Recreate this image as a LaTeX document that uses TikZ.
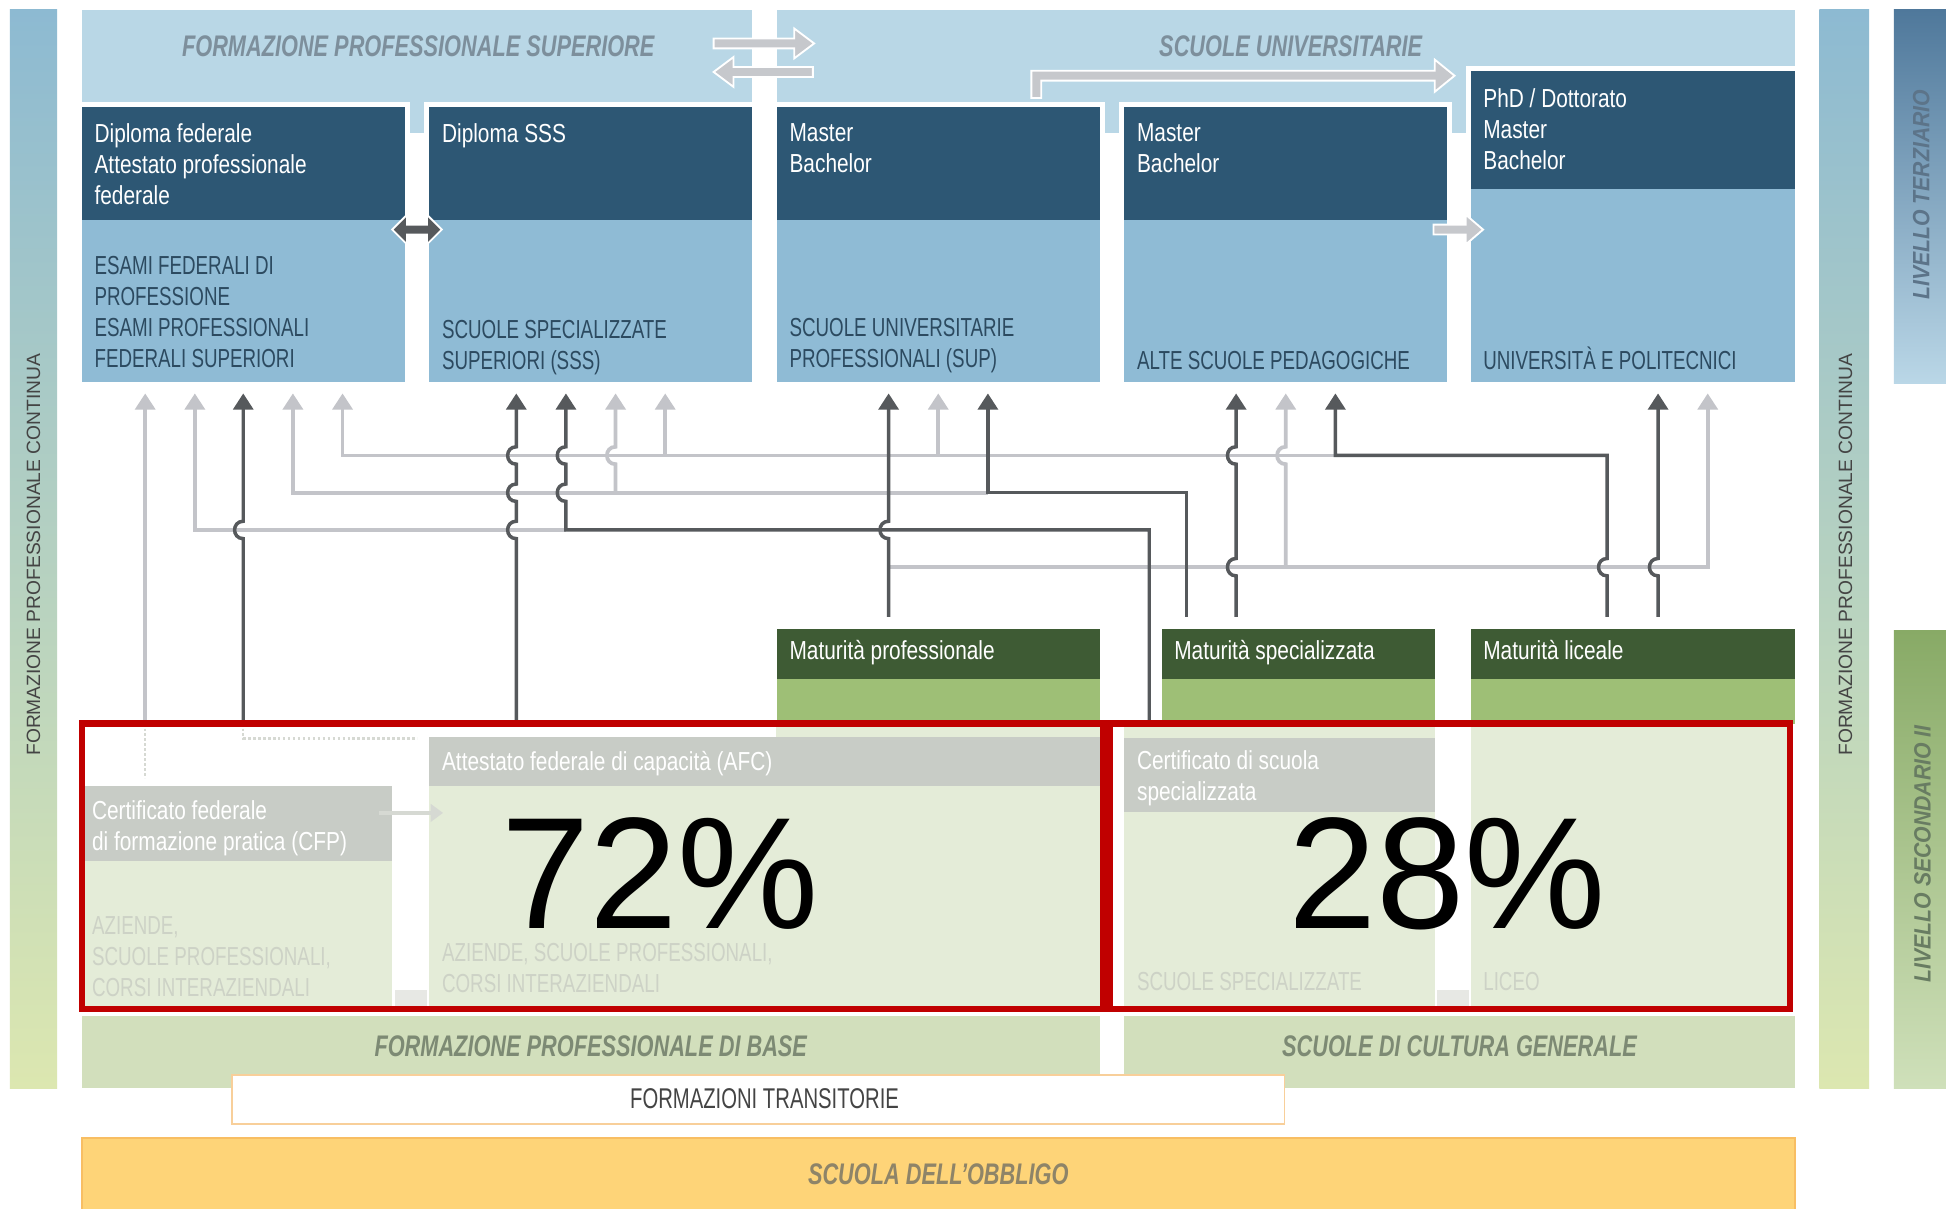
\documentclass[tikz,border=0pt]{standalone}
\usepackage{fontspec}
\setmainfont{Liberation Sans}
\newfontfamily\cnd[FakeStretch=0.8]{Liberation Sans}
\newfontfamily\cnc[FakeStretch=0.72]{Liberation Sans}
\newfontfamily\cnt[FakeStretch=0.71]{Liberation Sans}
\newfontfamily\ttl[FakeStretch=0.73]{Liberation Sans}
\newfontfamily\lvl[FakeStretch=0.9]{Liberation Sans}
\usetikzlibrary{arrows.meta}
\definecolor{bandblue}{HTML}{B9D7E6}
\definecolor{hdr}{HTML}{2D5774}
\definecolor{bodyb}{HTML}{8FBBD5}
\definecolor{bodytxt}{HTML}{2C4A60}
\definecolor{titleblue}{HTML}{7D8F9C}
\definecolor{titlegreen}{HTML}{7D8A74}
\definecolor{arrl}{HTML}{C3C4C9}
\definecolor{arrd}{HTML}{56595C}
\definecolor{barr}{HTML}{C6C8CC}
\definecolor{matdark}{HTML}{3E5B34}
\definecolor{matlight}{HTML}{9EBF76}
\definecolor{palegreen}{HTML}{E4ECD8}
\definecolor{greystrip}{HTML}{C8CCC6}
\definecolor{fadedtext}{HTML}{CDD2C6}
\definecolor{fadedline}{HTML}{D6D9D3}
\definecolor{bandgreen}{HTML}{D2DFBC}
\definecolor{obb}{HTML}{FED478}
\definecolor{obbline}{HTML}{F8BE63}
\definecolor{transline}{HTML}{F8CF9A}
\definecolor{obbtxt}{HTML}{8E8468}
\definecolor{redc}{HTML}{C00000}
\definecolor{fpctop}{HTML}{8DBAD2}
\definecolor{fpcmid}{HTML}{B4D3C6}
\definecolor{fpcbot}{HTML}{DCE7B0}
\definecolor{tertop}{HTML}{4F789B}
\definecolor{termid}{HTML}{93B6CE}
\definecolor{terbot}{HTML}{BAD7E7}
\definecolor{sectop}{HTML}{88AA66}
\definecolor{secmid}{HTML}{A9C58C}
\definecolor{secbot}{HTML}{CFE0BA}
\definecolor{sidetxt}{HTML}{444444}
\definecolor{tertxt}{HTML}{5C7489}
\definecolor{sectxt}{HTML}{687C62}
\begin{document}
\begin{tikzpicture}[x=1pt,y=-1pt,
  hdrtext/.style={anchor=north west, inner sep=0pt, text=white, font=\cnd\fontsize{21}{25}\selectfont, align=left},
  bodytext/.style={anchor=north west, inner sep=0pt, text=bodytxt, font=\cnc\fontsize{21}{25}\selectfont, align=left},
  bodyline/.style={anchor=base west, inner sep=0pt, text=bodytxt, font=\cnc\fontsize{21}{25}\selectfont},
  mattext/.style={anchor=base west, inner sep=0pt, text=white, font=\cnd\fontsize{21}{25}\selectfont},
  striptext/.style={anchor=north west, inner sep=0pt, text=white, font=\cnd\fontsize{21}{25}\selectfont, align=left},
  fadetext/.style={anchor=north west, inner sep=0pt, text=fadedtext, font=\cnc\fontsize{21}{25}\selectfont, align=left},
  bandtitle/.style={anchor=base, inner sep=0pt, font=\ttl\bfseries\itshape\fontsize{24}{28}\selectfont},
  sidetext/.style={rotate=90, inner sep=0pt, text=sidetxt, font=\fontsize{15.5}{18}\selectfont},
  livtext/.style={rotate=90, inner sep=0pt, font=\lvl\bfseries\itshape\fontsize{19}{22}\selectfont},
  pct/.style={anchor=base, inner sep=0pt, text=black, font=\fontsize{128}{130}\selectfont},
  la/.style={draw=arrl, line width=3pt, -{Triangle[width=16pt,length=13pt]}},
  da/.style={draw=arrd, line width=2.8pt, -{Triangle[width=16pt,length=13pt]}},
  blockarr/.style={fill=barr, draw=white, line width=1.5pt},
  hopat/.style args={#1,#2}{insert path={-- (#1,#2+7) .. controls (#1-9.3,#2+7) and (#1-9.3,#2-7) .. (#1,#2-7)}}
]
\useasboundingbox (0,0) rectangle (1568,974);
\fill[white] (0,0) rectangle (1568,974);

% side bars
\shade[top color=fpctop, middle color=fpcmid, bottom color=fpcbot] (8,8) rectangle (46,877);
\shade[top color=fpctop, middle color=fpcmid, bottom color=fpcbot] (1466,8) rectangle (1506,877);
\shade[top color=tertop, middle color=termid, bottom color=terbot] (1526,8) rectangle (1580,309);
\shade[top color=sectop, middle color=secmid, bottom color=secbot] (1526,508) rectangle (1580,877);
\node[sidetext] (fpcL) at (27,447) {FORMAZIONE PROFESSIONALE CONTINUA};
\node[sidetext] (fpcR) at (1487,447) {FORMAZIONE PROFESSIONALE CONTINUA};
\node[livtext, text=tertxt] (terz) at (1548,157) {LIVELLO TERZIARIO};
\node[livtext, text=sectxt] (sec) at (1549,688) {LIVELLO SECONDARIO II};

% top bands
\fill[bandblue] (66,8) rectangle (606,107);
\fill[bandblue] (626,8) rectangle (1446,107);
\node[bandtitle, text=titleblue] (fps) at (337,45.5) {FORMAZIONE PROFESSIONALE SUPERIORE};
\node[bandtitle, text=titleblue] (su) at (1040,45.5) {SCUOLE UNIVERSITARIE};

% block arrows in bands
\filldraw[blockarr] (575,31) -- (640,31) -- (640,23) -- (656,35) -- (640,47) -- (640,39) -- (575,39) -- cycle;
\filldraw[blockarr] (655,54) -- (591,54) -- (591,46) -- (575,58) -- (591,70) -- (591,62) -- (655,62) -- cycle;
\filldraw[blockarr] (831,79) -- (831,57) -- (1156,57) -- (1156,48) -- (1172,61) -- (1156,74) -- (1156,65) -- (839,65) -- (839,79) -- cycle;

% boxes
\foreach \xa/\xb in {66/326, 346/606, 626/886, 906/1166}{
  \fill[white] (\xa-4,82) rectangle (\xb+4,312);
  \fill[bodyb] (\xa,86) rectangle (\xb,308);
  \fill[hdr] (\xa,86) rectangle (\xb,177);
}
\fill[white] (1181,53) rectangle (1450,312);
\fill[bodyb] (1185,57) rectangle (1446,308);
\fill[hdr] (1185,57) rectangle (1446,152);

\node[hdrtext] (h1) at (76,99) {Diploma federale\\Attestato professionale\\federale};
\node[bodytext] (b1) at (76,206.5) {ESAMI FEDERALI DI\\PROFESSIONE\\ESAMI PROFESSIONALI\\FEDERALI SUPERIORI};
\node[hdrtext] (h2) at (356,99) {Diploma SSS};
\node[bodytext] (b2) at (356,257.5) {SCUOLE SPECIALIZZATE\\SUPERIORI (SSS)};
\node[hdrtext] (h3) at (636,99) {Master\\Bachelor};
\node[bodytext] (b3) at (636,256.5) {SCUOLE UNIVERSITARIE\\PROFESSIONALI (SUP)};
\node[hdrtext] (h4) at (916,99) {Master\\Bachelor};
\node[bodyline] (b4) at (916,297.5) {ALTE SCUOLE PEDAGOGICHE};
\node[hdrtext] (h5) at (1195,71) {PhD / Dottorato\\Master\\Bachelor};
\node[bodyline] (b5) at (1195,297.5) {UNIVERSITÀ E POLITECNICI};

% small arrows between boxes
\filldraw[fill=arrd, draw=white, line width=1.5pt] (316,185) -- (328,173) -- (328,181) -- (344,181) -- (344,173) -- (356,185) -- (344,197) -- (344,189) -- (328,189) -- (328,197) -- cycle;
\filldraw[blockarr] (1155,181) -- (1181,181) -- (1181,173) -- (1195,185) -- (1181,197) -- (1181,189) -- (1155,189) -- cycle;

% maturita boxes
\fill[matlight] (626,507) rectangle (886,583);
\fill[matdark] (626,507) rectangle (886,547);
\fill[matlight] (936,507) rectangle (1156,583);
\fill[matdark] (936,507) rectangle (1156,547);
\fill[matlight] (1185,507) rectangle (1446,583);
\fill[matdark] (1185,507) rectangle (1446,547);
\node[mattext] (m1) at (636,531.5) {Maturità professionale};
\node[mattext] (m2) at (946,531.5) {Maturità specializzata};
\node[mattext] (m3) at (1195,531.5) {Maturità liceale};

% light connectors
\draw[la] (117,580) -- (117,317);
\draw[la] (456,427) -- (157,427) -- (157,317);
\draw[la] (796,397) -- (236,397) -- (236,317);
\draw[la] (1076,367) -- (276,367) -- (276,317);
\draw[la] (496,397) [hopat={496,367}] -- (496,317);
\draw[la] (536,367) -- (536,317);
\draw[la] (756,367) -- (756,317);
\draw[la] (1036,457) [hopat={1036,367}] -- (1036,317);
\draw[la] (716,457) -- (1376,457) -- (1376,317);

% dark connectors
\draw[da] (196,580) [hopat={196,427}] -- (196,317);
\draw[da] (416,580) [hopat={416,427}] [hopat={416,397}] [hopat={416,367}] -- (416,317);
\draw[da] (926,580) -- (926,427) -- (456,427) [hopat={456,397}] [hopat={456,367}] -- (456,317);
\draw[da] (716,497) [hopat={716,427}] -- (716,317);
\draw[da] (956,497) -- (956,397) -- (796,397) -- (796,317);
\draw[da] (996,497) [hopat={996,457}] [hopat={996,367}] -- (996,317);
\draw[da] (1295,497) [hopat={1295,457}] -- (1295,367) -- (1076,367) -- (1076,317);
\draw[da] (1336,497) [hopat={1336,457}] -- (1336,317);

% faded lower region
\fill[palegreen] (66,633) rectangle (316,812);
\fill[greystrip] (68,633) rectangle (316,694);
\fill[palegreen] (346,583) rectangle (886,812);
\fill[white] (346,583) rectangle (625,594);
\fill[greystrip] (346,594) rectangle (886,633);
\fill[palegreen] (906,583) rectangle (1156,812);
\fill[greystrip] (906,595) rectangle (1156,654);
\fill[palegreen] (1185,583) rectangle (1440,812);
\fill[fadedline!60!white] (318,798) rectangle (344,812);
\fill[fadedline!60!white] (1158,798) rectangle (1184,812);
\draw[fadedline, line width=2pt, dotted] (117,583) -- (117,627);
\draw[fadedline, line width=2pt, dotted] (196,583) -- (196,595) -- (336,595);
\draw[fadedline, line width=3pt, -{Triangle[width=14pt,length=10pt]}] (305,655) -- (357,655);

\node[striptext] (afc) at (356,605.5) {Attestato federale di capacità (AFC)};
\node[striptext] (cfp) at (74,644.5) {Certificato federale\\di formazione pratica (CFP)};
\node[striptext] (css) at (916,604.5) {Certificato di scuola\\specializzata};
\node[fadetext] (az1) at (74,738) {AZIENDE,\\SCUOLE PROFESSIONALI,\\CORSI INTERAZIENDALI};
\node[fadetext] (az2) at (356,760) {AZIENDE, SCUOLE PROFESSIONALI,\\CORSI INTERAZIENDALI};
\node[fadetext, anchor=base west] (ss) at (916,798) {SCUOLE SPECIALIZZATE};
\node[fadetext, anchor=base west] (lic) at (1195,798) {LICEO};

\node[pct] (p72) at (532,748) {72\%};
\node[pct] (p28) at (1166,748) {28\%};

\draw[redc, line width=5pt] (66,583) rectangle (889,813);
\draw[redc, line width=5pt] (894,583) rectangle (1442,813);

% bottom bands
\fill[bandgreen] (66,819) rectangle (886,877);
\fill[bandgreen] (906,819) rectangle (1446,877);
\node[bandtitle, text=titlegreen] (fpb) at (476,851.5) {FORMAZIONE PROFESSIONALE DI BASE};
\node[bandtitle, text=titlegreen] (scg) at (1176,851.5) {SCUOLE DI CULTURA GENERALE};
\filldraw[fill=white, draw=transline, line width=1.5pt] (187,866) rectangle (1035,906);
\node[anchor=base, inner sep=0pt, text=sidetxt, font=\cnt\fontsize{23}{26}\selectfont] (trans) at (616,893) {FORMAZIONI TRANSITORIE};
\filldraw[fill=obb, draw=obbline, line width=1.5pt] (66,917) rectangle (1446,990);
\node[bandtitle, text=obbtxt] (obbl) at (756,954.5) {SCUOLA DELL’OBBLIGO};
\end{tikzpicture}
\end{document}
